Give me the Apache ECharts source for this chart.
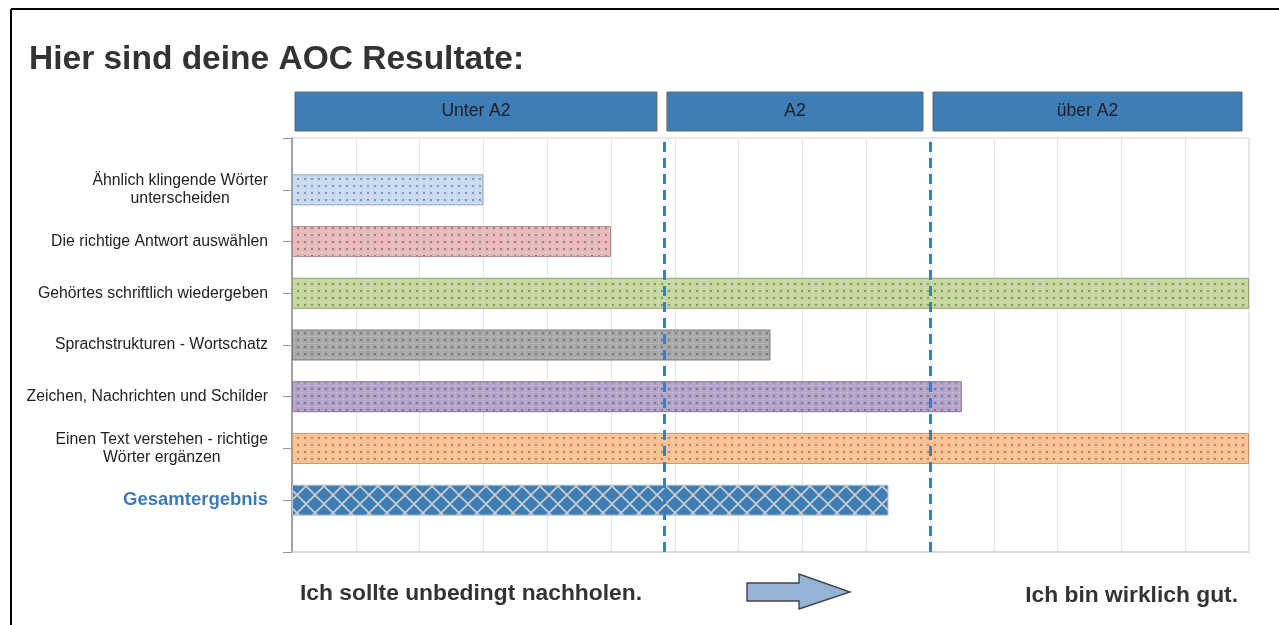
<!DOCTYPE html>
<html>
<head>
<meta charset="utf-8">
<script src="https://cdn.jsdelivr.net/npm/echarts@6/dist/echarts.min.js"></script>
<style>
html,body{margin:0;padding:0;background:#fff;}
#chart{width:1279px;height:625px;}
</style>
</head>
<body>
<div id="chart"></div>
<script>
// ---- data ----
const categories = [
  'Ähnlich klingende Wörter\nunterscheiden',
  'Die richtige Antwort auswählen',
  'Gehörtes schriftlich wiedergeben',
  'Sprachstrukturen - Wortschatz',
  'Zeichen, Nachrichten und Schilder',
  'Einen Text verstehen - richtige\nWörter ergänzen',
  'Gesamtergebnis'
];
const scores = [3, 5, 15, 7.5, 10.5, 15, 9.35];
const levelNames = ['Unter A2', 'A2', 'über A2'];
const levelStarts = [0, 5.83, 10];
const levelEnds = [5.83, 10, 15];
const thresholds = [5.83, 10];
const scaleMax = 15;
const titleText = 'Hier sind deine AOC Resultate:';
const leftNote = 'Ich sollte unbedingt nachholen.';
const rightNote = 'Ich bin wirklich gut.';

// ---- styles ----
const fills = ['#c6d9f1', '#e6b9b8', '#c3d69b', '#a6a6a6', '#b3a2c7', '#fac090', '#3f7db5'];
const borders = ['#8ea3c2', '#b48a89', '#92a56c', '#7d7d7d', '#8a7ba0', '#c8956b', '#b9c4cf'];

function dotPattern(bg) {
  const s = 7;
  const c = document.createElement('canvas');
  c.width = s; c.height = s;
  const g = c.getContext('2d');
  g.fillStyle = bg; g.fillRect(0, 0, s, s);
  g.fillStyle = 'rgba(255,255,255,0.14)';
  g.fillRect(0, 0, s, 1); g.fillRect(0, 0, 1, s);
  g.fillStyle = 'rgba(70,70,70,0.45)';
  g.fillRect(3, 3, 2, 2);
  return { image: c, repeat: 'repeat' };
}
function hatchPattern(bg) {
  const s = 18;
  const c = document.createElement('canvas');
  c.width = s; c.height = s;
  const g = c.getContext('2d');
  g.fillStyle = bg; g.fillRect(0, 0, s, s);
  g.strokeStyle = '#cfcfcf'; g.lineWidth = 1.6;
  g.beginPath();
  g.moveTo(-2, -2); g.lineTo(s + 2, s + 2);
  g.moveTo(s + 2, -2); g.lineTo(-2, s + 2);
  g.stroke();
  return { image: c, repeat: 'repeat' };
}

const barData = scores.map((v, i) => ({
  value: v,
  itemStyle: {
    color: i === scores.length - 1 ? hatchPattern(fills[i]) : dotPattern(fills[i]),
    borderColor: borders[i],
    borderWidth: 1
  }
}));

const labelFont = "'Liberation Sans', Arial, sans-serif";

const chart = echarts.init(document.getElementById('chart'), null, { renderer: 'canvas' });
chart.setOption({
  animation: false,
  backgroundColor: '#fff',
  title: {
    text: titleText,
    left: 24, top: 38,
    textStyle: { fontFamily: labelFont, fontSize: 33.5, fontWeight: 'bold', color: '#333' }
  },
  grid: [
    { left: 292, right: 30, top: 164, height: 362 },
    { left: 292, right: 30, top: 138, bottom: 73, show: true, borderColor: '#d4d4d4', borderWidth: 1 },
    { left: 292, right: 30, top: 92, height: 39 }
  ],
  xAxis: [
    { gridIndex: 0, type: 'value', min: 0, max: scaleMax, interval: 1, show: false },
    { gridIndex: 1, type: 'value', min: 0, max: scaleMax, interval: 1,
      axisLabel: { show: false }, axisTick: { show: false },
      axisLine: { show: true, lineStyle: { color: '#d4d4d4', width: 1.5 } },
      splitLine: { show: true, lineStyle: { color: '#e6e6e6', width: 1.2 } } },
    { gridIndex: 2, type: 'value', min: 0, max: scaleMax, show: false }
  ],
  yAxis: [
    { gridIndex: 0, type: 'category', inverse: true, data: categories,
      axisLine: { show: false },
      axisTick: { show: true, alignWithLabel: true, length: 9, lineStyle: { color: '#9a9a9a' } },
      axisLabel: {
        margin: 24,
        formatter: function (v) {
          if (v === 'Gesamtergebnis') return '{g|' + v + '}';
          return v.split('\n').map(function (l) { return '{a|' + l + '}'; }).join('\n');
        },
        rich: {
          a: { fontFamily: labelFont, fontSize: 15.8, color: '#222', align: 'center', lineHeight: 18 },
          g: { fontFamily: labelFont, fontSize: 18.5, fontWeight: 'bold', color: '#3d7bb6', lineHeight: 20 }
        }
      },
      splitLine: { show: false } },
    { gridIndex: 1, type: 'value', min: 0, max: 1, interval: 1,
      axisLine: { show: true, lineStyle: { color: '#8a8a8a', width: 1.5 } },
      axisTick: { show: true, length: 9, lineStyle: { color: '#9a9a9a' } },
      axisLabel: { show: false }, splitLine: { show: false } },
    { gridIndex: 2, type: 'value', min: 0, max: 1, show: false }
  ],
  series: [
    {
      type: 'bar', xAxisIndex: 0, yAxisIndex: 0, barWidth: 31, data: barData, z: 2
    },
    {
      type: 'line', xAxisIndex: 1, yAxisIndex: 1, data: [], z: 5, silent: true,
      markLine: {
        silent: true, symbol: ['none', 'none'], label: { show: false },
        lineStyle: { color: '#3a7fc1', width: 3, type: [10, 6] },
        data: thresholds.map(function (t) { return { xAxis: t }; })
      }
    },
    {
      type: 'custom', xAxisIndex: 2, yAxisIndex: 2, silent: true,
      data: levelNames.map(function (n, i) { return [levelStarts[i], levelEnds[i], n]; }),
      renderItem: function (params, api) {
        const x0 = api.coord([api.value(0), 0])[0] + 3;
        const x1 = api.coord([api.value(1), 0])[0] - 7;
        const yTop = api.coord([0, 1])[1];
        const yBot = api.coord([0, 0])[1];
        return {
          type: 'group',
          children: [
            { type: 'rect', shape: { x: x0, y: yTop, width: x1 - x0, height: yBot - yTop },
              style: { fill: '#3f7db6', stroke: '#666', lineWidth: 1 } },
            { type: 'text', style: { text: levelNames[params.dataIndex], x: (x0 + x1) / 2, y: (yTop + yBot) / 2,
                align: 'center', verticalAlign: 'middle', fill: '#1e1e1e',
                font: "17.5px 'Liberation Sans', Arial, sans-serif" } }
          ]
        };
      }
    }
  ],
  graphic: [
    { type: 'line', shape: { x1: 11, y1: 9, x2: 1279, y2: 9 }, style: { stroke: '#000', lineWidth: 2 } },
    { type: 'line', shape: { x1: 11, y1: 9, x2: 11, y2: 625 }, style: { stroke: '#000', lineWidth: 2 } },
    { type: 'text', left: 300, top: 582,
      style: { text: leftNote, font: "bold 22.8px 'Liberation Sans', Arial, sans-serif", fill: '#333' } },
    { type: 'text', right: 41, top: 584,
      style: { text: rightNote, font: "bold 22.8px 'Liberation Sans', Arial, sans-serif", fill: '#333' } },
    { type: 'polygon',
      shape: { points: [[747, 583], [799, 583], [799, 574], [850, 592], [799, 609], [799, 601], [747, 601]] },
      style: { fill: '#95b3d7', stroke: '#444', lineWidth: 1.4 } }
  ]
});
</script>
</body>
</html>
